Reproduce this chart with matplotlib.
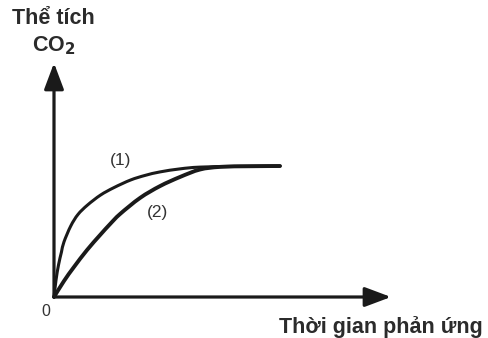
import matplotlib.pyplot as plt
from matplotlib.path import Path
from matplotlib.patches import PathPatch

# Thời gian (đơn vị tùy ý) và thể tích CO2 (mL) của hai đường cong
t1 = [0, 0.09, 0.20, 0.33, 0.44, 0.74, 1.06, 1.48, 2.06, 2.65, 3.39, 4.03, 4.69, 5.58, 6.46, 8.23, 10]
v1 = [0, 7.8, 14.7, 20.6, 25.2, 32.5, 37.8, 42.1, 46.7, 50.1, 53.6, 55.7, 57.3, 58.7, 59.5, 59.9, 60.0]

t2 = [0, 0.44, 0.88, 1.46, 2.04, 2.48, 2.92, 3.81, 4.69, 5.58, 6.46, 7.35, 8.67, 10]
v2 = [0, 7.3, 13.7, 21.5, 28.4, 33.4, 38.0, 45.4, 50.8, 55.0, 58.4, 59.6, 59.9, 60.0]

W, H = 488, 338
X0, Y0 = 54, 297        # gốc toạ độ (pixel)
SX, SY = 22.6, 2.183    # pixel trên mỗi đơn vị

fig = plt.figure(figsize=(W / 100, H / 100), dpi=100)
ax = fig.add_axes([0, 0, 1, 1])
ax.set_xlim(-X0 / SX, (W - X0) / SX)
ax.set_ylim(-(H - Y0) / SY, Y0 / SY)
ax.axis('off')

ink = '#1a1a1a'

# Hai trục có mũi tên
arrow = dict(arrowstyle='-|>,head_length=0.8,head_width=0.3', color=ink, lw=2.3,
             mutation_scale=20, shrinkA=0, shrinkB=0)
ax.annotate('', xy=(0, (Y0 - 63) / SY), xytext=(0, 0), arrowprops=arrow)
ax.annotate('', xy=((391 - X0) / SX, 0), xytext=(0, 0), arrowprops=arrow)


def smooth_path(xs, ys):
    # đường cong Bézier đi qua các điểm (kiểu Catmull-Rom)
    pts = list(zip(xs, ys))
    verts = [pts[0]]
    codes = [Path.MOVETO]
    for i in range(len(pts) - 1):
        p0 = pts[max(i - 1, 0)]
        p1 = pts[i]
        p2 = pts[i + 1]
        p3 = pts[min(i + 2, len(pts) - 1)]
        c1 = (p1[0] + (p2[0] - p0[0]) / 6, p1[1] + (p2[1] - p0[1]) / 6)
        c2 = (p2[0] - (p3[0] - p1[0]) / 6, p2[1] - (p3[1] - p1[1]) / 6)
        verts += [c1, c2, p2]
        codes += [Path.CURVE4] * 3
    return Path(verts, codes)


# Đường cong (1) và (2)
ax.add_patch(PathPatch(smooth_path(t1, v1), fill=False, edgecolor=ink, lw=2.2,
                       capstyle='round', joinstyle='round'))
ax.add_patch(PathPatch(smooth_path(t2, v2), fill=False, edgecolor=ink, lw=2.8,
                       capstyle='round', joinstyle='round'))

def px(x, y):
    return x / W, 1 - y / H

font = ['Liberation Sans', 'DejaVu Sans']
txt = '#2b2b2b'
fig.text(*px(53, 19), 'Thể tích', ha='center', va='center', fontsize=15.5,
         fontweight='bold', color=txt, family=font)
fig.text(*px(54, 46), r'CO$_\mathbf{2}$', ha='center', va='center', fontsize=15.5,
         fontweight='bold', color=txt, family=font)
fig.text(*px(46, 311), '0', ha='center', va='center', fontsize=11.5,
         color='#333333', family=font)
fig.text(*px(121, 161), '(1)', ha='center', va='center', fontsize=12.5,
         color='#333333', family=font)
fig.text(*px(157, 213), '(2)', ha='center', va='center', fontsize=12.5,
         color='#333333', family=font)
fig.text(*px(381, 327), 'Thời gian phản ứng', ha='center', va='center', fontsize=15.5,
         fontweight='bold', color=txt, family=font)

fig.savefig('out.png', dpi=100, facecolor='white')
